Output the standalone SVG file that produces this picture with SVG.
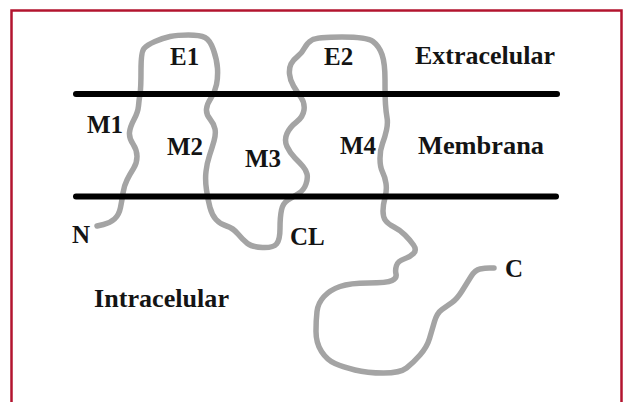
<svg xmlns="http://www.w3.org/2000/svg" width="623" height="402" viewBox="0 0 623 402">
  <style>
    .frame { fill: none; stroke: #b3142f; stroke-width: 2.5; }
    .membrane { stroke: #000; stroke-width: 6; stroke-linecap: round; }
    .chain { fill: none; stroke: #a4a4a4; stroke-width: 5.5; stroke-linecap: round; stroke-linejoin: round; }
    .lbl { font-family: "Liberation Serif", "Times New Roman", serif; font-weight: bold; font-size: 25px; fill: #141414; }
  </style>

  <rect x="0" y="0" width="623" height="402" fill="#fff"/>
  <!-- open frame: left, top and right edges -->
  <path class="frame" d="M11.5,402 V10.5 H621.5 V402"/>

  <!-- polypeptide chain from N to C terminus -->
  <g id="chain">
    <path class="chain" d="M97,226 L103.5,224.5
      Q110,223 114.5,219 Q119,215 120.5,207.5 Q122,200 123,193 Q124,186 127,180
      Q130,174 133.5,168.5 Q137,163 137,156.5 Q137,150 133,144 Q129,138 129.5,132.5
      Q130,127 134,119.5 Q138,112 138.5,106 Q139,100 140,94 Q141,88 141,70
      Q141,52 144,48.5 Q147,45 155,41.5 Q163,38 170,36.5 Q177,35 188.5,35
      Q200,35 205,37.5 Q210,40 213.5,50 Q217,60 217.5,68.5 Q218,77 216.5,84.5
      Q215,92 211,98 Q207,104 206.5,109 Q206,114 210,119 Q214,124 215,129
      Q216,134 214,141 Q212,148 209.5,155.5 Q207,163 206,171.5 Q205,180 206.5,190
      Q208,200 210,207.5 Q212,215 216,219.5 Q220,224 226.5,226 Q233,228 238,234
      Q243,240 247.5,243.5 Q252,247 262.5,247.5 Q273,248 276.5,244 Q280,240 280,228.5
      Q280,217 281.5,210 Q283,203 288,200 Q293,197 298.5,193.5 Q304,190 306,184
      Q308,178 307,174 Q306,170 303,166.5 Q300,163 295,158 Q290,153 287,146.5
      Q284,140 287,133.5 Q290,127 296.5,122 Q303,117 304,110 Q305,103 301,97.5
      Q297,92 293.5,86 Q290,80 289.5,74 Q289,68 291,64 Q293,60 297.5,56.5
      Q302,53 304.5,48 Q307,43 312,40 Q317,37 342,37 Q367,37 373,41.5
      Q379,46 382,54.5 Q385,63 385,80 Q385,97 385.5,104.5 Q386,112 387,117.5
      Q388,123 386.5,130 Q385,137 382.5,143.5 Q380,150 380,158.5 Q380,167 382.5,172
      Q385,177 386,183.5 Q387,190 385,197.5 Q383,205 383,211 Q383,217 385.5,220.5
      Q388,224 394,227 Q400,230 405,235 Q410,240 413.5,245 Q417,250 413.5,253.5
      Q410,257 404,259 Q398,261 396.5,265.5 Q395,270 396,274 Q397,278 392,280.5
      Q387,283 368.5,283 Q350,283 340,286.5 Q330,290 324,296.5 Q318,303 317,311.5
      Q316,320 316,331.5 Q316,343 321.5,351.5 Q327,360 335,363.5 Q343,367 355,370
      Q367,373 383.5,373 Q400,373 406.5,368 Q413,363 420,355 Q427,347 429.5,338.5
      Q432,330 434.5,321.5 Q437,313 442,309.5 Q447,306 452,302.5 Q457,299 462,291
      Q467,283 471,276.5 Q475,270 480,269 Q485,268 489.5,268 L494,268"/>
  </g>

  <!-- lipid bilayer boundaries -->
  <g id="membrane">
    <line class="membrane" x1="76" y1="94" x2="557" y2="94"/>
    <line class="membrane" x1="76" y1="196.5" x2="556" y2="196.5"/>
  </g>

  <g id="labels">
    <text class="lbl" x="170" y="65">E1</text>
    <text class="lbl" x="324" y="65">E2</text>
    <text class="lbl" x="415" y="64" textLength="140" lengthAdjust="spacingAndGlyphs">Extracelular</text>
    <text class="lbl" x="87" y="133">M1</text>
    <text class="lbl" x="167" y="155">M2</text>
    <text class="lbl" x="245" y="167">M3</text>
    <text class="lbl" x="340" y="154">M4</text>
    <text class="lbl" x="418" y="154" textLength="126" lengthAdjust="spacingAndGlyphs">Membrana</text>
    <text class="lbl" x="72" y="243">N</text>
    <text class="lbl" x="290" y="245">CL</text>
    <text class="lbl" x="94" y="307" textLength="135" lengthAdjust="spacingAndGlyphs">Intracelular</text>
    <text class="lbl" x="505" y="277">C</text>
  </g>
</svg>
